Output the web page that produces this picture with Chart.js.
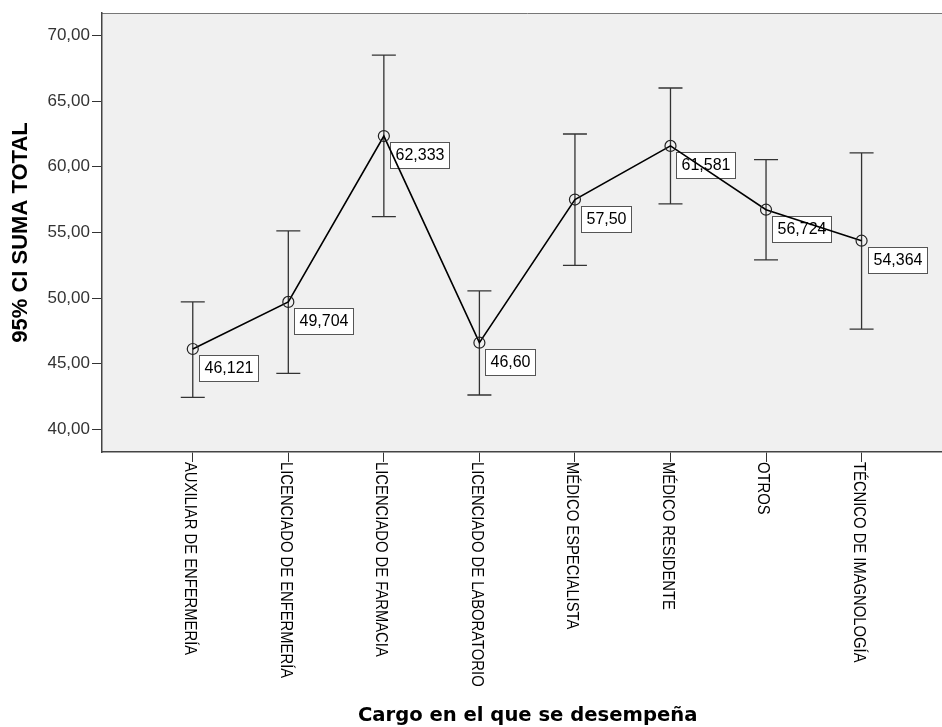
<!DOCTYPE html>
<html>
<head>
<meta charset="utf-8">
<title>95% CI SUMA TOTAL</title>
<script src="https://cdn.jsdelivr.net/npm/chart.js@4.4.1/dist/chart.umd.min.js"></script>
<style>
  html, body { margin: 0; padding: 0; background: #fff; overflow: hidden; }
  #wrap { width: 942px; height: 727px; overflow: hidden; }
  canvas { display: block; }
</style>
</head>
<body>
<div id="wrap"><canvas id="grafico" width="960" height="727"></canvas></div>
<script>
// datos
const cargos = [
  "AUXILIAR DE ENFERMERÍA",
  "LICENCIADO DE ENFERMERÍA",
  "LICENCIADO DE FARMACIA",
  "LICENCIADO DE LABORATORIO",
  "MÉDICO ESPECIALISTA",
  "MÉDICO RESIDENTE",
  "OTROS",
  "TÉCNICO DE IMAGNOLOGÍA"
];
const medias = [46.121, 49.704, 62.333, 46.60, 57.50, 61.581, 56.724, 54.364];
const etiquetasMedia = ["46,121", "49,704", "62,333", "46,60", "57,50", "61,581", "56,724", "54,364"];
const icInferior = [42.44, 44.26, 56.20, 42.62, 52.48, 57.17, 52.91, 47.64];
const icSuperior = [49.71, 55.11, 68.50, 50.55, 62.49, 65.99, 60.54, 61.05];
const marcasY = [40, 45, 50, 55, 60, 65, 70];

// fondo gris del area del grafico
const fondoPlot = {
  id: "fondoPlot",
  beforeDraw(chart) {
    const { ctx, chartArea: a } = chart;
    ctx.save();
    ctx.fillStyle = "#f0f0f0";
    ctx.fillRect(a.left, a.top, a.right - a.left, a.bottom - a.top);
    ctx.strokeStyle = "#777";
    ctx.lineWidth = 1;
    ctx.beginPath();
    ctx.moveTo(a.left, a.top + 0.5);
    ctx.lineTo(a.right, a.top + 0.5);
    ctx.stroke();
    ctx.restore();
  }
};

// cajas con la media + barras de error (IC 95%)
const barrasYEtiquetas = {
  id: "barrasYEtiquetas",
  beforeDatasetsDraw(chart) {
    const { ctx, scales: { x, y } } = chart;
    ctx.save();
    ctx.font = '16px "Liberation Sans", Arial, sans-serif';
    ctx.textAlign = "center";
    ctx.textBaseline = "middle";
    medias.forEach((m, i) => {
      const px = x.getPixelForValue(i);
      const py = y.getPixelForValue(m);
      const w = Math.round(ctx.measureText(etiquetasMedia[i]).width + 10);
      const bx = Math.round(px + 6) + 0.5;
      const by = Math.round(py + 6) + 0.5;
      ctx.fillStyle = "#fff";
      ctx.fillRect(bx, by, w, 26);
      ctx.strokeStyle = "#555";
      ctx.lineWidth = 1;
      ctx.strokeRect(bx, by, w, 26);
      ctx.fillStyle = "#000";
      ctx.fillText(etiquetasMedia[i], bx + w / 2, by + 13.5);
    });

    ctx.strokeStyle = "#333";
    ctx.lineWidth = 1.3;
    cargos.forEach((c, i) => {
      const px = x.getPixelForValue(i);
      const lo = y.getPixelForValue(icInferior[i]);
      const hi = y.getPixelForValue(icSuperior[i]);
      ctx.beginPath();
      ctx.moveTo(px, hi); ctx.lineTo(px, lo);
      ctx.moveTo(px - 12, hi); ctx.lineTo(px + 12, hi);
      ctx.moveTo(px - 12, lo); ctx.lineTo(px + 12, lo);
      ctx.stroke();
    });
    ctx.restore();
  }
};

// etiquetas del eje X giradas (se leen de arriba hacia abajo)
const etiquetasX = {
  id: "etiquetasX",
  afterDraw(chart) {
    const { ctx, scales: { x } } = chart;
    ctx.save();
    ctx.font = '17px "Liberation Sans", Arial, sans-serif';
    ctx.fillStyle = "#000";
    ctx.textAlign = "left";
    ctx.textBaseline = "middle";
    cargos.forEach((c, i) => {
      ctx.save();
      ctx.translate(x.getPixelForValue(i) - 3, x.top + 10);
      ctx.rotate(Math.PI / 2);
      ctx.scale(0.87, 1);
      ctx.fillText(c, 0, 0);
      ctx.restore();
    });
    ctx.restore();
  }
};

new Chart(document.getElementById("grafico"), {
  type: "line",
  data: {
    datasets: [{
      data: medias.map((m, i) => ({ x: i, y: m })),
      borderColor: "#000",
      borderWidth: 1.6,
      tension: 0,
      pointRadius: 5.5,
      pointHoverRadius: 5.5,
      pointBorderColor: "#222",
      pointBorderWidth: 1.2,
      pointBackgroundColor: "rgba(0,0,0,0)"
    }]
  },
  options: {
    responsive: false,
    animation: false,
    devicePixelRatio: 1,
    events: [],
    layout: { padding: { top: 13, left: 0, right: 0, bottom: 0 } },
    plugins: { legend: { display: false }, tooltip: { enabled: false } },
    scales: {
      x: {
        type: "linear",
        min: -0.95,
        max: 7.96,
        afterBuildTicks: s => { s.ticks = cargos.map((c, i) => ({ value: i })); },
        afterFit: s => { s.height = 275; },
        ticks: { display: false },
        grid: { drawOnChartArea: false, drawTicks: true, tickLength: 10, color: "#333", lineWidth: 1 },
        border: { display: true, color: "#444", width: 1.5 },
        title: {
          display: true,
          text: "Cargo en el que se desempeña",
          color: "#000",
          font: { family: '"DejaVu Sans"', size: 19.6, weight: "bold", lineHeight: 1 },
          padding: { top: 0, bottom: 1 }
        }
      },
      y: {
        min: 38.28,
        max: 71.70,
        afterBuildTicks: s => { s.ticks = marcasY.map(v => ({ value: v })); },
        afterFit: s => { s.width = 102; },
        ticks: {
          color: "#333",
          padding: 2,
          font: { family: '"Liberation Sans"', size: 17 },
          callback: v => v.toFixed(2).replace(".", ",")
        },
        grid: { drawOnChartArea: false, tickLength: 10, color: "#333" },
        border: { color: "#444", width: 1.5 },
        title: {
          display: true,
          text: "95% CI SUMA TOTAL",
          color: "#000",
          font: { family: '"Liberation Sans"', size: 22, weight: "bold" },
          padding: { top: 8 }
        }
      }
    }
  },
  plugins: [fondoPlot, barrasYEtiquetas, etiquetasX]
});
</script>
</body>
</html>
